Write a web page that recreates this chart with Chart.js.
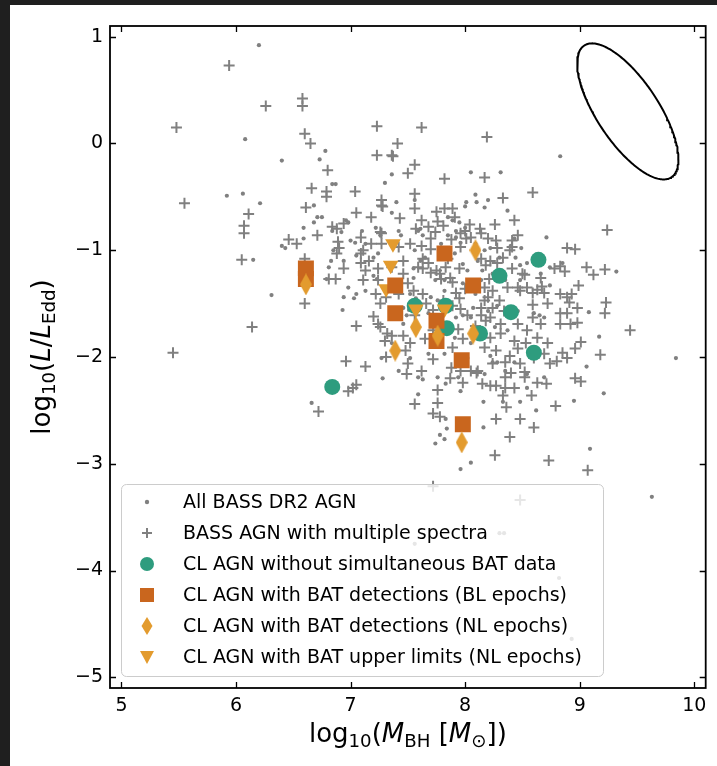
<!DOCTYPE html>
<html>
<head>
<meta charset="utf-8">
<script src="https://cdn.jsdelivr.net/npm/chart.js@4.4.1/dist/chart.umd.min.js"></script>
<style>
  html, body { margin: 0; padding: 0; background: #1f1f1f; }
  canvas { display: block; }
</style>
</head>
<body>
<canvas id="chart" width="717" height="766"></canvas>
<script>
// log10(M_BH) vs log10(L/L_Edd) for BASS AGN and changing-look (CL) AGN

const xTickValues = [5, 6, 7, 8, 9, 10];
const yTickValues = [-5, -4, -3, -2, -1, 0, 1];

// All BASS DR2 AGN  [log M_BH, log L/L_Edd]
const bassAll = [
  [6.20,0.92],[6.08,0.04],[6.40,-0.16],[6.78,-0.07],[6.73,-0.15],[5.92,-0.49],[6.06,-0.47],[6.21,-0.56],
  [6.84,-0.38],[6.87,-0.38],[6.68,-0.58],[6.71,-0.69],[6.75,-0.69],[6.68,-0.74],[6.59,-0.79],[6.40,-0.96],
  [6.43,-0.98],[6.59,-0.89],[7.00,-0.91],[6.15,-1.09],[6.31,-1.42],[6.79,-1.27],[7.13,-0.94],[7.20,-1.07],
  [6.85,-1.00],[7.13,-1.38],[7.05,-1.41],[7.03,-1.45],[6.93,-1.56],[7.28,-2.20],[6.66,-2.43],[7.63,-2.21],
  [7.59,-2.35],[7.83,-2.58],[7.84,-2.67],[7.78,-2.73],[7.82,-2.77],[7.74,-2.81],[7.96,-3.05],[8.05,-2.99],
  [7.96,-2.32],[7.83,-2.25],[8.16,-2.42],[8.16,-2.66],[9.09,-2.86],[9.63,-3.31],[8.33,-2.42],[8.48,-2.42],
  [8.62,-2.50],[8.95,-2.41],[9.21,-2.34],[9.06,-2.09],[9.17,-1.81],[9.84,-2.01],[8.54,-2.29],[8.24,-2.05],
  [8.22,-1.99],[8.28,-2.05],
  [7.36,-0.29],[8.83,-0.12],[8.05,-0.27],[8.31,-0.27],[7.30,-0.37],[7.40,-0.55],[7.56,-0.53],[8.09,-0.48],
  [8.20,-0.53],[8.01,-0.55],[8.00,-0.59],[7.36,-0.65],[8.17,-0.60],[8.37,-0.63],[8.71,-0.88],[8.43,-0.89],
  [8.40,-0.96],[8.49,-0.98],[8.44,-1.07],[9.32,-1.20],[8.74,-1.16],[8.85,-1.12],[8.48,-1.14],[8.74,-1.33],
  [9.08,-1.58],[8.65,-1.61],
  [7.04,-0.93],[7.22,-0.79],[7.42,-0.82],[7.44,-0.86],[6.96,-0.72],[6.84,-0.82],[6.98,-1.35],[7.59,-0.82],
  [7.63,-0.86],[7.85,-0.86],[7.92,-0.82],[8.09,-0.94],[7.96,-0.93],[7.05,-1.05],[7.24,-1.03],[6.94,-1.10],
  [7.55,-1.17],[7.61,-1.10],[7.55,-1.26],[7.98,-1.13],[8.02,-1.19],[7.98,-1.31],[7.57,-1.45],[7.52,-1.41],
  [7.70,-1.44],[7.76,-1.47],[7.82,-1.38],[7.98,-1.61],[8.05,-1.63],[7.46,-1.69],[7.49,-1.61],
  [7.26,-0.86],[7.56,-1.00],[7.65,-1.07],[7.79,-0.94],[7.91,-1.03],[8.11,-1.10],[8.17,-1.00],[8.30,-1.07],
  [8.54,-1.12],[8.66,-1.22],[8.48,-1.28],[8.35,-1.28],[8.24,-1.22],[8.14,-1.28],[8.09,-1.41],[7.82,-1.28],
  [7.74,-1.28],[7.42,-1.28],[7.36,-1.56],[7.68,-1.59],[7.92,-1.63],[8.07,-1.54],[8.20,-1.57],[8.28,-1.52],
  [8.46,-1.57],[8.60,-1.59],[8.69,-1.63],[8.37,-1.75],[8.26,-1.72],[8.05,-1.87],[7.91,-1.82],[7.82,-1.97],
  [7.68,-1.97],[7.52,-2.01],[7.36,-1.87],[7.27,-2.01],[7.42,-2.13],[7.59,-2.19],[7.76,-2.19],[7.94,-2.19],
  [8.17,-2.16],[8.35,-2.13],[8.54,-2.16],[8.69,-2.19],[8.43,-2.05],[8.02,-2.01],[7.51,-1.56],
  [6.83,-1.10],[6.81,-1.16],[7.20,-1.24],[7.23,-1.27],[6.94,-1.44],[6.98,-0.74],[6.92,-0.83],[7.10,-0.82],
  [7.61,-0.80],[7.92,-0.88],[8.22,-0.98],[8.15,-1.19],[7.46,-1.54],[7.85,-0.69],[7.89,-0.72],[7.95,-0.74],
  [8.00,-0.79],[8.10,-0.55],
  [8.30,-3.65],[8.34,-3.65],[7.56,-3.75],[8.82,-4.07],[8.93,-4.64]
];

// BASS AGN with multiple spectra
const bassMulti = [
  [5.94,0.73],[6.26,0.35],[6.58,0.42],[6.58,0.35],[5.48,0.15],[6.60,0.09],[6.65,0.00],[6.80,-0.25],
  [5.55,-0.56],[6.11,-0.66],[6.07,-0.77],[6.07,-0.84],[6.66,-0.42],[6.79,-0.45],[6.79,-0.50],[7.04,-0.45],
  [6.61,-0.60],[6.84,-0.78],[6.88,-0.80],[6.94,-0.75],[6.71,-0.86],[6.46,-0.90],[6.53,-0.94],[6.89,-0.92],
  [6.90,-0.98],[6.88,-1.03],[7.05,-0.65],[6.05,-1.09],[6.60,-1.50],[6.14,-1.72],[6.60,-1.08],[5.45,-1.96],
  [7.18,-0.69],[7.27,-0.58],[7.09,-0.88],[7.18,-0.94],[7.09,-1.03],[6.94,-1.17],[6.81,-1.27],[6.87,-1.27],
  [7.13,-1.19],[7.11,-1.28],[7.24,-1.17],[7.24,-1.28],[7.05,-1.71],[7.20,-1.62],[7.26,-1.50],[7.30,-1.85],
  [7.32,-1.78],[7.31,-2.00],[6.96,-2.04],[7.13,-2.09],[6.98,-2.32],[7.02,-2.29],[7.05,-2.26],[6.72,-2.51],
  [7.49,-2.16],[7.56,-2.44],[7.36,-1.80],[7.46,-1.80],[7.52,-1.87],[7.72,-2.02],[7.76,-2.31],[7.76,-2.43],
  [7.72,-2.53],[7.78,-2.56],[7.87,-2.20],[7.98,-2.24],[8.05,-2.13],[8.11,-2.13],[8.15,-2.25],[8.27,-2.58],
  [8.39,-2.75],[8.26,-2.92],[8.48,-2.58],[8.60,-2.66],[8.73,-2.97],[9.07,-3.06],[8.48,-3.34],[7.72,-3.21],
  [8.36,-2.47],[8.58,-2.36],[8.79,-2.46],[8.96,-2.20],[9.01,-2.23],[9.18,-1.98],[9.44,-1.75],[8.80,-2.04],
  [8.89,-2.01],[8.85,-1.96],[8.96,-1.92],[9.01,-1.86],[8.71,-2.25],[8.63,-2.24],[8.52,-2.14],[8.52,-2.19],
  [8.35,-2.19],[8.40,-2.15],[8.27,-2.27],[8.35,-2.29],[8.43,-2.29],[8.33,-2.36],[8.22,-2.27],[8.10,-2.15],
  [8.46,-1.92],[8.39,-1.99],[8.35,-2.05],
  [7.23,0.16],[7.62,0.15],[7.41,0.00],[7.23,-0.11],[7.36,-0.11],[7.56,-0.20],[7.50,-0.28],[8.19,0.06],
  [7.82,-0.33],[8.17,-0.32],[8.59,-0.46],[7.27,-0.53],[7.28,-0.59],[7.56,-0.47],[7.56,-0.61],[8.33,-0.51],
  [7.43,-0.70],[7.75,-0.64],[7.82,-0.61],[7.89,-0.61],[7.62,-0.72],[7.68,-0.78],[7.76,-0.73],[7.81,-0.77],
  [7.91,-0.69],[8.04,-0.76],[8.26,-0.76],[8.43,-0.72],[8.00,-0.82],[8.13,-0.80],[7.27,-0.84],[8.89,-0.98],
  [8.96,-0.99],[9.24,-0.81],[8.46,-0.86],[8.41,-0.91],[7.88,-0.90],[7.96,-0.84],[8.41,-0.97],[9.06,-1.16],
  [9.12,-1.23],[9.22,-1.18],[8.78,-1.17],[8.87,-1.20],[8.83,-1.15],[8.41,-1.17],[8.52,-1.23],[8.66,-1.26],
  [8.67,-1.34],[8.99,-1.33],[8.46,-1.35],[8.54,-1.35],[8.63,-1.37],[8.59,-1.40],[8.83,-1.41],[8.89,-1.44],
  [8.93,-1.41],[8.91,-1.49],[8.72,-1.50],[8.59,-1.51],[9.23,-1.49],[9.22,-1.59],[8.83,-1.59],[8.89,-1.59],
  [8.98,-1.54],[8.98,-1.68],[8.92,-1.69],[8.83,-1.69],[8.59,-1.63],[8.66,-1.69],
  [7.37,-0.12],[7.11,-1.00],[7.26,-0.83],[7.42,-0.97],[7.52,-0.94],[7.57,-0.80],[7.74,-0.83],[7.70,-0.89],
  [8.01,-0.89],[8.14,-0.84],[8.20,-0.89],[8.27,-0.91],[8.28,-0.98],[8.33,-1.07],[7.09,-1.12],[7.16,-1.10],
  [7.22,-1.41],[7.46,-1.10],[7.63,-1.08],[7.63,-1.17],[7.70,-1.21],[7.78,-1.22],[7.83,-1.16],[7.87,-1.26],
  [7.79,-1.27],[7.89,-1.30],[7.95,-1.17],[8.14,-1.08],[8.18,-1.14],[8.22,-1.10],[8.28,-1.12],[8.21,-1.27],
  [8.17,-1.35],[8.24,-1.38],[7.50,-1.31],[7.55,-1.38],[7.63,-1.41],[7.66,-1.50],[7.72,-1.56],[7.56,-1.61],
  [7.92,-1.40],[7.95,-1.45],[7.89,-1.52],[7.96,-1.55],[8.17,-1.47],[8.24,-1.54],[8.30,-1.47],[8.34,-1.57],
  [8.14,-1.61],[8.18,-1.66],[7.24,-1.69],[8.09,-1.71],[8.31,-1.69],
  [7.27,-0.94],[7.62,-0.96],[7.70,-0.99],[7.68,-1.12],[7.75,-1.19],[7.85,-1.08],[7.96,-0.97],[8.05,-0.88],
  [8.39,-1.00],[8.50,-1.22],[8.69,-1.40],[8.48,-1.38],[8.37,-1.35],[8.20,-1.44],[8.14,-1.54],[8.22,-1.63],
  [8.46,-1.69],[8.54,-1.75],[8.63,-1.82],[8.72,-1.87],[8.53,-1.87],[8.43,-1.85],[8.31,-1.78],[8.22,-1.82],
  [8.17,-1.91],[8.27,-1.94],[8.48,-2.06],[8.60,-2.01],[8.69,-1.97],[8.74,-2.06],[8.24,-2.06],[7.96,-2.13],
  [7.88,-2.10],[7.62,-2.13],[7.50,-2.06],[7.48,-1.94],[7.26,-1.72],[7.65,-1.83],[7.72,-1.75],[7.89,-1.91],
  [7.98,-1.83],[7.94,-1.74],[8.02,-1.61],[8.00,-1.36],[7.81,-1.47],[7.46,-1.22],[7.59,-1.16],[7.36,-1.16],
  [7.31,-1.44],[7.42,-1.41]
];

// CL AGN without simultaneous BAT data
const clNoBat = [[8.64,-1.09],[8.30,-1.24],[8.40,-1.58],[8.60,-1.96],[7.84,-1.73],[8.13,-1.78],[7.56,-1.52],[7.83,-1.52],[6.84,-2.28]];
// CL AGN with BAT detections, broad-line epochs
const clBatBL = [[6.61,-1.17],[6.61,-1.27],[7.82,-1.03],[8.07,-1.33],[7.39,-1.33],[7.39,-1.59],[7.75,-1.66],[7.75,-1.85],[7.97,-2.03],[7.98,-2.63]];
// CL AGN with BAT detections, narrow-line epochs
const clBatNL = [[6.61,-1.32],[8.09,-1.00],[8.07,-1.78],[7.76,-1.80],[7.57,-1.72],[7.39,-1.94],[7.97,-2.80]];
// CL AGN with BAT upper limits, narrow-line epochs
const clBatUL = [[7.37,-0.94],[7.35,-1.14],[7.31,-1.36],[7.57,-1.55],[7.82,-1.55]];

// typical uncertainty ellipse: centre and covariance in (log M, log L/L_Edd)
const ellipseCenter = [9.42, 0.30];
const ellipseCov = { xx: 0.1953, yy: 0.406, xy: -0.1988 };

const legendLabels = [
  'All BASS DR2 AGN',
  'BASS AGN with multiple spectra',
  'CL AGN without simultaneous BAT data',
  'CL AGN with BAT detections (BL epochs)',
  'CL AGN with BAT detections (NL epochs)',
  'CL AGN with BAT upper limits (NL epochs)'
];

const GRAY = '#808080';
const TEAL = '#2e9c7e';
const DARK_ORANGE = '#c9661e';
const LIGHT_ORANGE = '#e39b2e';
const FONT = '"DejaVu Sans", "Liberation Sans", sans-serif';

const toXY = arr => arr.map(p => ({ x: p[0], y: p[1] }));

function ellipsePoints(c, cov, n) {
  const l11 = Math.sqrt(cov.xx);
  const l21 = cov.xy / l11;
  const l22 = Math.sqrt(cov.yy - l21 * l21);
  const pts = [];
  for (let i = 0; i <= n; i++) {
    const t = 2 * Math.PI * i / n;
    pts.push({ x: c[0] + l11 * Math.cos(t), y: c[1] + l21 * Math.cos(t) + l22 * Math.sin(t) });
  }
  return pts;
}

function thinDiamond(w, h, color) {
  const c = document.createElement('canvas');
  c.width = w; c.height = h;
  const g = c.getContext('2d');
  g.fillStyle = color;
  g.beginPath();
  g.moveTo(w / 2, 0); g.lineTo(w, h / 2); g.lineTo(w / 2, h); g.lineTo(0, h / 2);
  g.closePath(); g.fill();
  return c;
}
const diamondImg = thinDiamond(12, 22, LIGHT_ORANGE);

const fmtTick = v => (v < 0 ? '\u2212' + Math.abs(v) : String(v));

// frame background
const backdrop = {
  id: 'backdrop',
  beforeDraw(chart) {
    const ctx = chart.ctx;
    ctx.save();
    ctx.fillStyle = '#1f1f1f';
    ctx.fillRect(0, 0, chart.width, chart.height);
    ctx.fillStyle = '#ffffff';
    ctx.fillRect(10, 5, chart.width - 10, chart.height - 5);
    ctx.restore();
  }
};

// spines and inward ticks on all four sides
const frame = {
  id: 'frame',
  afterDatasetsDraw(chart) {
    const { ctx, chartArea: a, scales } = chart;
    ctx.save();
    ctx.strokeStyle = '#000';
    ctx.lineWidth = 1.3;
    const L = 6;
    ctx.beginPath();
    xTickValues.forEach(v => {
      const px = Math.round(scales.x.getPixelForValue(v)) + 0.5;
      ctx.moveTo(px, a.bottom); ctx.lineTo(px, a.bottom - L);
      ctx.moveTo(px, a.top); ctx.lineTo(px, a.top + L);
    });
    yTickValues.forEach(v => {
      const py = Math.round(scales.y.getPixelForValue(v)) + 0.5;
      ctx.moveTo(a.left, py); ctx.lineTo(a.left + L, py);
      ctx.moveTo(a.right, py); ctx.lineTo(a.right - L, py);
    });
    ctx.stroke();
    ctx.lineWidth = 1.8;
    ctx.strokeRect(a.left, a.top, a.right - a.left, a.bottom - a.top);
    ctx.restore();
  }
};

function drawRich(ctx, runs, size, cx, cy, vertical) {
  const pieces = runs.map(r => {
    const fs = r.sub ? size * 0.7 : size;
    const font = (r.it ? 'italic ' : '') + fs + 'px ' + FONT;
    ctx.font = font;
    return { t: r.t, font, w: ctx.measureText(r.t).width, dy: r.sub ? size * 0.2 : 0 };
  });
  const total = pieces.reduce((s, p) => s + p.w, 0);
  ctx.save();
  ctx.translate(cx, cy);
  if (vertical) ctx.rotate(-Math.PI / 2);
  ctx.fillStyle = '#000';
  ctx.textBaseline = 'alphabetic';
  let x = -total / 2;
  pieces.forEach(p => { ctx.font = p.font; ctx.fillText(p.t, x, p.dy); x += p.w; });
  ctx.restore();
}

const titles = {
  id: 'titles',
  afterDraw(chart) {
    const { ctx, chartArea: a } = chart;
    drawRich(ctx, [
      { t: 'log' }, { t: '10', sub: true }, { t: '(' }, { t: 'M', it: true }, { t: 'BH', sub: true },
      { t: ' [' }, { t: 'M', it: true }, { t: '\u2299', sub: true }, { t: '])' }
    ], 26, (a.left + a.right) / 2, 742, false);
    drawRich(ctx, [
      { t: 'log' }, { t: '10', sub: true }, { t: '(' }, { t: 'L', it: true }, { t: '/' },
      { t: 'L', it: true }, { t: 'Edd', sub: true }, { t: ')' }
    ], 26, 50, (a.top + a.bottom) / 2, true);
  }
};

function legendMarker(ctx, i, x, y) {
  ctx.save();
  switch (i) {
    case 0:
      ctx.fillStyle = GRAY; ctx.beginPath(); ctx.arc(x, y, 2.2, 0, 2 * Math.PI); ctx.fill(); break;
    case 1:
      ctx.strokeStyle = GRAY; ctx.lineWidth = 2; ctx.beginPath();
      ctx.moveTo(x - 5, y); ctx.lineTo(x + 5, y); ctx.moveTo(x, y - 5); ctx.lineTo(x, y + 5); ctx.stroke(); break;
    case 2:
      ctx.fillStyle = TEAL; ctx.beginPath(); ctx.arc(x, y, 7, 0, 2 * Math.PI); ctx.fill(); break;
    case 3:
      ctx.fillStyle = DARK_ORANGE; ctx.fillRect(x - 7, y - 7, 14, 14); break;
    case 4:
      ctx.fillStyle = LIGHT_ORANGE; ctx.beginPath();
      ctx.moveTo(x, y - 9); ctx.lineTo(x + 5.5, y); ctx.lineTo(x, y + 9); ctx.lineTo(x - 5.5, y); ctx.closePath(); ctx.fill(); break;
    case 5:
      ctx.fillStyle = LIGHT_ORANGE; ctx.beginPath();
      ctx.moveTo(x - 7, y - 6); ctx.lineTo(x + 7, y - 6); ctx.lineTo(x, y + 7); ctx.closePath(); ctx.fill(); break;
  }
  ctx.restore();
}

const legendBox = {
  id: 'legendBox',
  afterDraw(chart) {
    const ctx = chart.ctx;
    const bx = 121, by = 484, bw = 482, bh = 192;
    ctx.save();
    ctx.beginPath();
    ctx.roundRect(bx + 0.5, by + 0.5, bw, bh, 5);
    ctx.fillStyle = 'rgba(255,255,255,0.8)';
    ctx.fill();
    ctx.strokeStyle = '#cccccc';
    ctx.lineWidth = 1;
    ctx.stroke();
    ctx.font = '19px ' + FONT;
    ctx.fillStyle = '#000';
    ctx.textBaseline = 'middle';
    legendLabels.forEach((lab, i) => {
      const y = 502 + i * 31;
      legendMarker(ctx, i, 147, y);
      ctx.fillText(lab, 183, y + 1);
    });
    ctx.restore();
  }
};

const axisTicks = () => ({
  font: { family: FONT, size: 19 },
  color: '#000',
  autoSkip: false,
  maxRotation: 0,
  padding: 7,
  callback: v => fmtTick(v)
});

new Chart(document.getElementById('chart'), {
  type: 'scatter',
  data: {
    datasets: [
      { label: legendLabels[0], data: toXY(bassAll), pointStyle: 'circle', pointRadius: 2.1, backgroundColor: GRAY, borderWidth: 0, order: 7 },
      { label: legendLabels[1], data: toXY(bassMulti), pointStyle: 'cross', pointRadius: 5.5, borderColor: GRAY, borderWidth: 2, order: 6 },
      { label: legendLabels[2], data: toXY(clNoBat), pointStyle: 'circle', pointRadius: 8, backgroundColor: TEAL, borderWidth: 0, order: 5 },
      { label: legendLabels[3], data: toXY(clBatBL), pointStyle: 'rect', pointRadius: 11.3, backgroundColor: DARK_ORANGE, borderWidth: 0, order: 3 },
      { label: legendLabels[4], data: toXY(clBatNL), pointStyle: diamondImg, order: 2 },
      { label: legendLabels[5], data: toXY(clBatUL), pointStyle: 'triangle', rotation: 180, pointRadius: 9, backgroundColor: LIGHT_ORANGE, borderWidth: 0, order: 4 },
      { label: 'ellipse', data: ellipsePoints(ellipseCenter, ellipseCov, 240), showLine: true, pointRadius: 0, borderColor: '#000', borderWidth: 2, fill: false, tension: 0, order: 1 }
    ]
  },
  options: {
    responsive: false,
    animation: false,
    devicePixelRatio: 1,
    layout: { padding: { left: 0, top: 26, right: 6, bottom: 0 } },
    plugins: { legend: { display: false }, tooltip: { enabled: false } },
    events: [],
    scales: {
      x: {
        type: 'linear', min: 4.9, max: 10.1,
        afterBuildTicks: s => { s.ticks = xTickValues.map(v => ({ value: v })); },
        afterFit: s => { s.height = 78; },
        grid: { display: false, drawTicks: false },
        border: { display: false },
        ticks: axisTicks()
      },
      y: {
        type: 'linear', min: -5.1, max: 1.1,
        afterBuildTicks: s => { s.ticks = yTickValues.map(v => ({ value: v })); },
        afterFit: s => { s.width = 110; },
        grid: { display: false, drawTicks: false },
        border: { display: false },
        ticks: axisTicks()
      }
    }
  },
  plugins: [backdrop, frame, titles, legendBox]
});
</script>
</body>
</html>
